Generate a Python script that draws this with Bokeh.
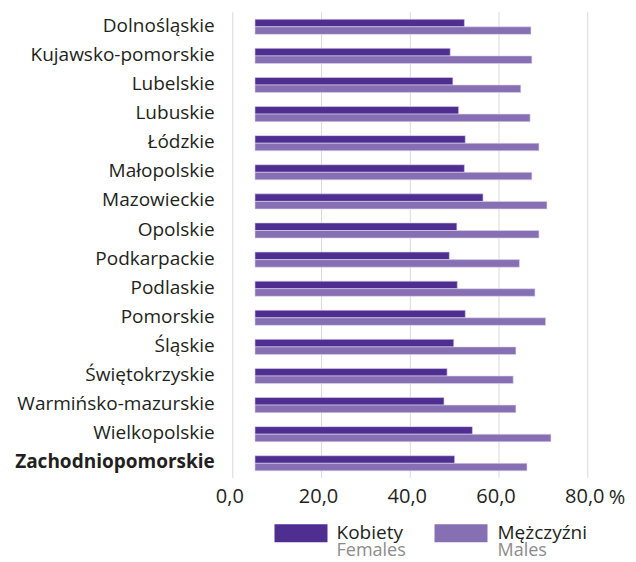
import numpy as np
from bokeh.plotting import figure
from bokeh.models import ColumnDataSource, Range1d
from bokeh.core.properties import value
from bokeh.embed import file_html
from bokeh.resources import INLINE

# ---- data ----
regions = ["Dolnośląskie", "Kujawsko-pomorskie", "Lubelskie", "Lubuskie", "Łódzkie",
           "Małopolskie", "Mazowieckie", "Opolskie", "Podkarpackie", "Podlaskie",
           "Pomorskie", "Śląskie", "Świętokrzyskie", "Warmińsko-mazurskie",
           "Wielkopolskie", "Zachodniopomorskie"]
females = [52.2, 49.0, 49.6, 50.9, 52.4, 52.2, 56.4, 50.5, 48.8, 50.6, 52.4, 49.8, 48.3, 47.6, 54.0, 50.0]
males = [67.2, 67.4, 64.9, 67.0, 69.0, 67.4, 70.8, 69.0, 64.6, 68.1, 70.5, 63.8, 63.2, 63.8, 71.7, 66.3]
bar_start = 5.0
x_ticks = [0, 20, 40, 60, 80]
x_tick_labels = ["0,0", "20,0", "40,0", "60,0", "80,0"]
unit_label = "%"
legend_pl = ["Kobiety", "Mężczyźni"]
legend_en = ["Females", "Males"]

# ---- style / layout ----
FONT = "Open Sans"
TXT = "#231f20"
C_F = "#4f2e91"
C_M = "#8670b3"
GRID = "#d9d9d9"

W, H = 636, 560
n = len(regions)
ypos = np.arange(n)[::-1].astype(float)
styles = ["normal"] * (n - 1) + ["bold"]

# frame covers the whole figure; ranges chosen so value 0 sits at the gridline
X_RANGE = (-52.35, 90.98)
Y_RANGE = (-3.34, 15.904)
TICK_LABEL_Y = -1.14
LEG_Y_SW = -2.40
LEG_Y1 = -2.36
LEG_Y2 = -2.93
LEG_X_SW = [15.37, 51.43]
LEG_X_TXT = [23.37, 59.65]

src = ColumnDataSource(dict(
    y=ypos, name=regions, style=styles,
    yf=ypos + 0.13, ym=ypos - 0.13,
    f=females, m=males, base=[bar_start] * n,
    zero=[0.0] * n,
))

p = figure(width=W, height=H, output_backend="svg", toolbar_location=None,
           x_range=Range1d(*X_RANGE), y_range=Range1d(*Y_RANGE),
           min_border=0, min_border_left=0, min_border_right=0,
           min_border_top=0, min_border_bottom=0)
p.outline_line_color = None
p.axis.visible = False
p.grid.visible = False

# gridlines at tick values
p.segment(x0=x_ticks, x1=x_ticks, y0=[-0.5] * len(x_ticks), y1=[n - 0.5] * len(x_ticks),
          line_color=GRID, line_width=1)

# bars
p.hbar(y="yf", left="base", right="f", height=0.26, source=src,
       fill_color=C_F, line_color="#ddd5ec", line_width=0.6)
p.hbar(y="ym", left="base", right="m", height=0.26, source=src,
       fill_color=C_M, line_color="#ddd5ec", line_width=0.6)

# category labels
p.text(x="zero", y="y", text="name", source=src, x_offset=-18, y_offset=-2,
       text_align="right", text_baseline="middle",
       text_font=value(FONT), text_font_size=value("19px"),
       text_font_style="style", text_color=TXT)

# x tick labels
p.text(x=x_ticks, y=[TICK_LABEL_Y] * len(x_ticks), text=x_tick_labels, x_offset=-3,
       text_align="center", text_baseline="middle",
       text_font=value(FONT), text_font_size=value("20px"), text_color=TXT)
p.text(x=[x_ticks[-1]], y=[TICK_LABEL_Y], text=[unit_label], x_offset=21,
       text_align="left", text_baseline="middle",
       text_font=value(FONT), text_font_size=value("20px"), text_color=TXT)

# legend
p.rect(x=LEG_X_SW, y=[LEG_Y_SW] * 2, width=53, height=18,
       width_units="screen", height_units="screen",
       fill_color=[C_F, C_M], line_color=None)
p.text(x=LEG_X_TXT, y=[LEG_Y1] * 2, text=legend_pl,
       text_align="left", text_baseline="middle",
       text_font=value(FONT), text_font_size=value("19px"), text_color=TXT)
p.text(x=LEG_X_TXT, y=[LEG_Y2] * 2, text=legend_en,
       text_align="left", text_baseline="middle",
       text_font=value(FONT), text_font_size=value("18px"), text_color="#8c8c8c")

open("out.html", "w").write(file_html(p, INLINE))
